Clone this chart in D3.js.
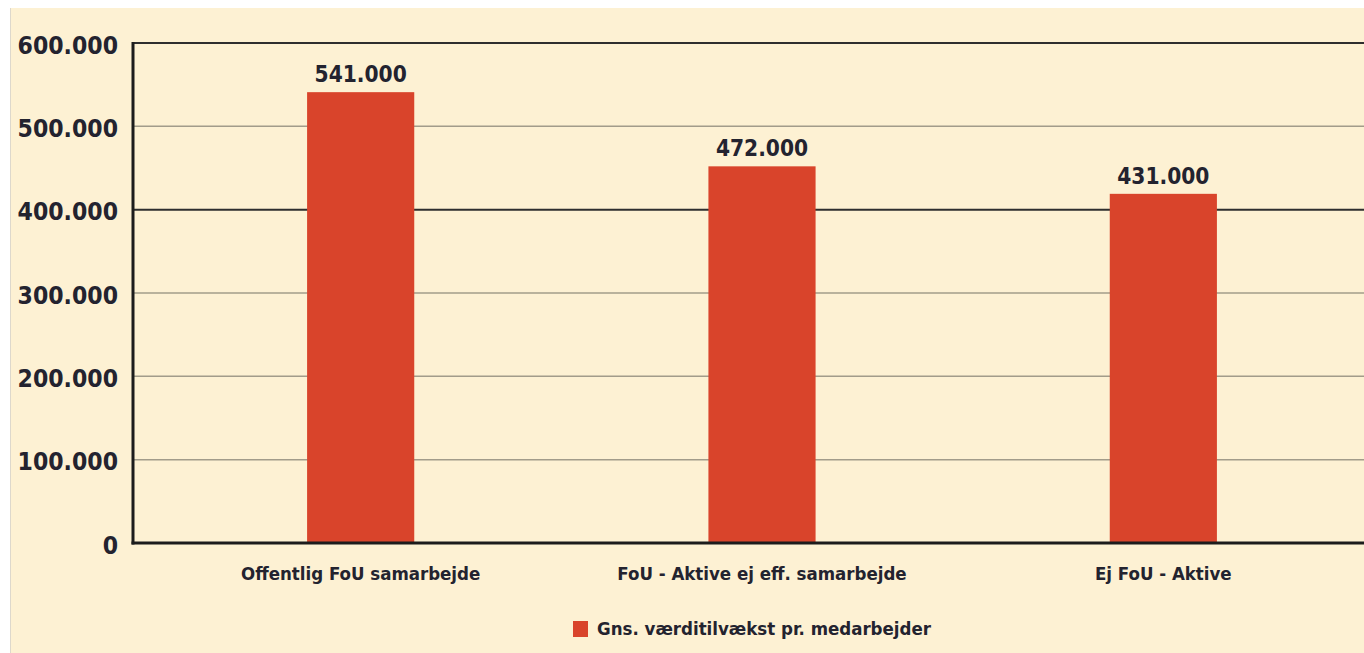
<!DOCTYPE html>
<html>
<head>
<meta charset="utf-8">
<script src="https://cdn.jsdelivr.net/npm/d3@7"></script>
<style>
  body { margin: 0; background: #fff; }
  svg { display: block; }
  text { font-family: "DejaVu Sans Condensed", "DejaVu Sans", sans-serif; }
</style>
</head>
<body>
<svg width="1364" height="653"></svg>
<script>
// Data
let categories = ['Offentlig FoU samarbejde', 'FoU - Aktive ej eff. samarbejde', 'Ej FoU - Aktive'];
let barValues = [541000, 452000, 419000]; // bar heights as drawn
let valueLabels = ['541.000', '472.000', '431.000']; // printed labels
let yTicks = [0, 100000, 200000, 300000, 400000, 500000, 600000];
let darkTicks = [400000, 600000];
let seriesName = 'Gns. værditilvækst pr. medarbejder';

let svg = d3.select('svg');

let barColor = '#d9442b';
let textColor = '#23232f';

// background panel
svg.append('rect')
	.attr('x', 10).attr('y', 8)
	.attr('width', 1354).attr('height', 645)
	.attr('fill', '#fdf1d3');
svg.append('line')
	.attr('x1', 10.5).attr('x2', 10.5)
	.attr('y1', 8).attr('y2', 653)
	.attr('stroke', '#ddd8cc').attr('stroke-width', 1);

let left = 133, right = 1364;
let y = d3.scaleLinear().domain([0, 600000]).range([543, 43]);
let x = d3.scaleBand().domain(categories).range([160, 1364])
	.paddingInner(0.733).paddingOuter(0.3665);

// gridlines
svg.append('g').selectAll('line').data(yTicks.filter(d => d > 0))
	.join('line')
	.attr('x1', left).attr('x2', right)
	.attr('y1', d => y(d)).attr('y2', d => y(d))
	.attr('stroke', d => darkTicks.includes(d) ? '#2e2e2e' : '#a29c8a')
	.attr('stroke-width', d => darkTicks.includes(d) ? 2 : 1.5);

// bars
svg.append('g').selectAll('rect').data(barValues)
	.join('rect')
	.attr('x', (d, i) => x(categories[i]))
	.attr('y', d => y(d))
	.attr('width', x.bandwidth())
	.attr('height', d => y(0) - y(d))
	.attr('fill', barColor);

// value labels
svg.append('g').selectAll('text').data(barValues)
	.join('text')
	.attr('x', (d, i) => x(categories[i]) + x.bandwidth() / 2)
	.attr('y', d => y(d) - 10)
	.attr('text-anchor', 'middle')
	.attr('font-size', 22.5)
	.attr('font-weight', 'bold')
	.attr('fill', textColor)
	.text((d, i) => valueLabels[i]);

// y axis
let fmt = d => d === 0 ? '0' : d3.format(',')(d).replace(/,/g, '.');
let yAxis = svg.append('g')
	.attr('transform', 'translate(' + left + ',0)')
	.call(d3.axisLeft(y).tickValues(yTicks).tickSize(0).tickPadding(15).tickFormat(fmt));
yAxis.select('.domain')
	.attr('stroke', '#1c1c1c').attr('stroke-width', 3)
	.attr('d', 'M0,' + (y(600000) - 1) + 'V' + (y(0) + 1.5));
yAxis.selectAll('text')
	.attr('font-size', 24.5)
	.attr('font-weight', 'bold')
	.attr('fill', textColor)
	.attr('dy', '0.42em');

// x axis
let xAxis = svg.append('g')
	.attr('transform', 'translate(0,' + y(0) + ')')
	.call(d3.axisBottom(x).tickSize(0).tickPadding(35));
xAxis.select('.domain')
	.attr('stroke', '#1c1c1c').attr('stroke-width', 3)
	.attr('d', 'M' + (left - 1.5) + ',0H' + right);
xAxis.selectAll('text')
	.attr('font-size', 18.5)
	.attr('font-weight', 'bold')
	.attr('fill', textColor)
	.attr('dy', '0.1em');

// legend
let legend = svg.append('g').attr('transform', 'translate(573,621)');
legend.append('rect')
	.attr('width', 15).attr('height', 16)
	.attr('fill', barColor);
legend.append('text')
	.attr('x', 24).attr('y', 8)
	.attr('dy', '0.35em')
	.attr('font-size', 18.5)
	.attr('font-weight', 'bold')
	.attr('fill', textColor)
	.text(seriesName);
</script>
</body>
</html>
